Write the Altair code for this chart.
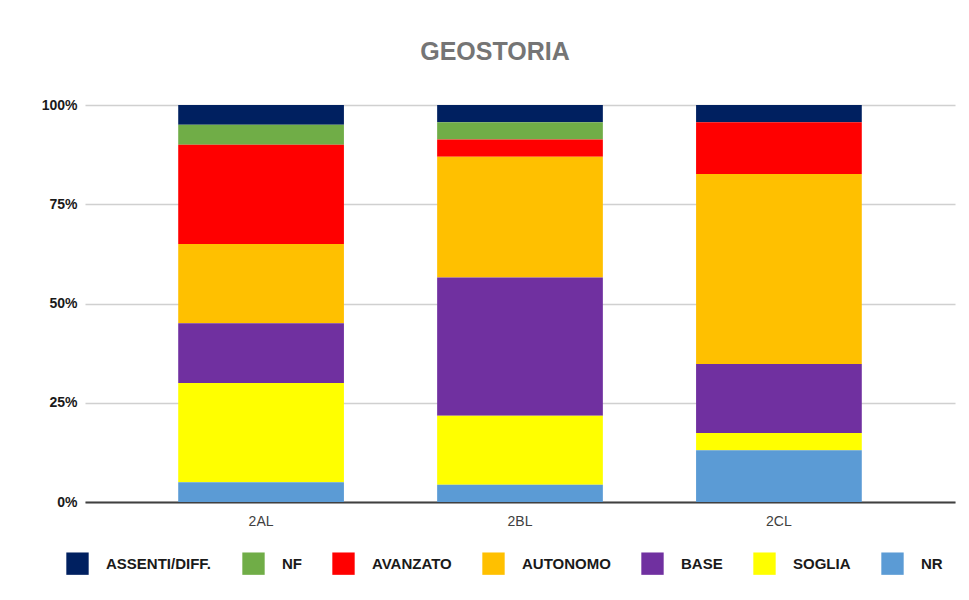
import altair as alt
import pandas as pd

classes = ["2AL", "2BL", "2CL"]
levels = ["ASSENTI/DIFF.", "NF", "AVANZATO", "AUTONOMO", "BASE", "SOGLIA", "NR"]
colors = ["#002060", "#70AD47", "#FF0000", "#FFC000", "#7030A0", "#FFFF00", "#5B9BD5"]
# counts of students per level (same order as levels)
counts_2AL = [1, 1, 5, 4, 3, 5, 1]
counts_2BL = [1, 1, 1, 7, 8, 4, 1]
counts_2CL = [1, 0, 3, 11, 4, 1, 3]

rows = []
for cls, counts in zip(classes, [counts_2AL, counts_2BL, counts_2CL]):
    for i, (lvl, c) in enumerate(zip(levels, counts)):
        rows.append({"classe": cls, "livello": lvl, "n": c, "ord": len(levels) - 1 - i})
df = pd.DataFrame(rows)

FONT = "Liberation Sans"

chart = alt.Chart(df).mark_bar().encode(
    x=alt.X("classe:N", sort=classes,
            scale=alt.Scale(paddingInner=0.36, paddingOuter=0.36),
            axis=alt.Axis(title=None, labelAngle=0, labelFontSize=14, labelColor="#404040",
                          labelFont=FONT, labelPadding=12, ticks=False,
                          domainColor="#404040", domainWidth=2, grid=False)),
    y=alt.Y("n:Q", stack="normalize",
            scale=alt.Scale(domain=[0, 1]),
            axis=alt.Axis(title=None, format=".0%", values=[0, 0.25, 0.5, 0.75, 1],
                          labelFontSize=14, labelFontWeight="bold", labelColor="#1a1a1a",
                          labelFont=FONT, labelPadding=8, ticks=False, domain=False,
                          gridColor="#d0d0d0", gridWidth=1.5)),
    color=alt.Color("livello:N", sort=levels,
                    scale=alt.Scale(domain=levels, range=colors),
                    legend=alt.Legend(title=None, orient="none", direction="horizontal",
                                      legendX=-19, legendY=447,
                                      symbolType="square", symbolSize=500,
                                      symbolStrokeWidth=0, symbolOpacity=1,
                                      labelFont=FONT,
                                      labelFontSize=15, labelFontWeight="bold",
                                      labelColor="#1a1a1a", labelOffset=17,
                                      columnPadding=30, labelLimit=300)),
    order=alt.Order("ord:Q", sort="ascending"),
).properties(
    width=870, height=397,
    title=alt.Title("GEOSTORIA", fontSize=25, font=FONT, fontWeight="bold",
                    color="#757575", anchor="middle", offset=33, dx=-25),
    autosize=alt.AutoSizeParams(type="none"),
    padding={"left": 77, "top": 97, "right": 6, "bottom": 88},
).configure_view(stroke=None)

chart.save("out.html", embed_options={"renderer": "svg", "actions": False})
